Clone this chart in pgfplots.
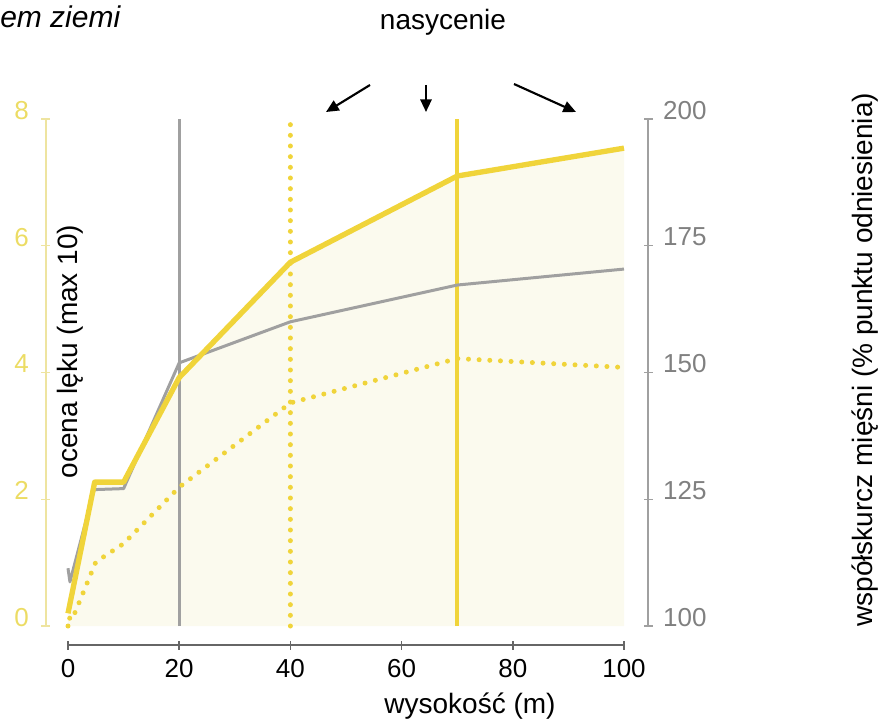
\documentclass[border=0pt]{standalone}
\usepackage{fontspec}
\setmainfont{Liberation Sans}
\usepackage{pgfplots}
\pgfplotsset{compat=1.18}
\usetikzlibrary{arrows.meta}
\definecolor{yel}{RGB}{240,212,58}
\definecolor{yellab}{RGB}{236,220,100}
\definecolor{yelaxis}{RGB}{238,228,160}
\definecolor{gry}{RGB}{160,160,160}
\definecolor{grylab}{RGB}{128,128,128}
\definecolor{fillc}{RGB}{251,250,238}
\pgfplotsset{
  base/.style={at={(0,0)}, anchor=south west, scale only axis,
    width=417pt, height=380.25pt, xmin=0, xmax=100, clip=false,
    tick align=outside, major tick length=6.75pt,
    tick label style={font=\fontsize{19.5}{23}\selectfont},
    /pgf/number format/assume math mode=true},
}
\begin{document}
\begin{tikzpicture}
\useasboundingbox (-51pt,-72pt) rectangle (610.5pt,469.5pt);
% left axis, fill and vertical lines
\begin{axis}[base, ymin=0, ymax=8,
  axis x line=bottom, axis y line=left,
  axis x line shift=14.25pt, axis y line shift=16.5pt,
  x axis line style={-, draw=black!60, line width=1.2pt},
  y axis line style={-, draw=yelaxis, line width=1pt},
  xtick={0,20,40,60,80,100}, ytick={0,2,4,6,8},
  x tick style={draw=black!60, line width=1.2pt},
  y tick style={draw=yelaxis, line width=1pt},
  yticklabel style={text=yellab, xshift=-6pt, yshift=6.5pt},
  xticklabel style={text=black, yshift=-3.5pt}]
\addplot[draw=none, fill=fillc] coordinates {(0,0.2) (4.8,2.27) (10,2.27) (20,3.92) (40,5.74) (70,7.1) (100,7.54)} \closedcycle;
\addplot[gry, line width=2.25pt] coordinates {(20,0) (20,8)};
\addplot[yel, line width=3.75pt, dash pattern=on 0pt off 8pt, line cap=round] coordinates {(40,0) (40,8)};
\addplot[yel, line width=3pt] coordinates {(70,0) (70,8)};
\end{axis}
% right axis, gray series
\begin{axis}[base, ymin=100, ymax=200,
  axis x line=none, axis y line=right, axis y line shift=18pt,
  y axis line style={-, draw=gry, line width=1pt},
  ytick={100,125,150,175,200},
  y tick style={draw=gry, line width=1pt},
  yticklabel style={text=grylab, xshift=4.5pt, yshift=6.5pt}]
\addplot[gry, line width=2.25pt, line join=round] coordinates {(0,111.4) (0.35,108.7) (4.7,126.9) (10,127.1) (20,151.9) (40,160) (70,167.25) (100,170.4)};
\end{axis}
% yellow series
\begin{axis}[base, ymin=0, ymax=8, hide axis]
\addplot[yel, line width=3.75pt, dash pattern=on 0pt off 8pt, line cap=round] coordinates {(0,0) (0.5,0) (0.2,0.19) (1.2,0.2) (5,1.01) (10,1.3) (20,2.19) (40,3.52) (70,4.22) (100,4.08)};
\addplot[yel, line width=4pt, line join=round] coordinates {(0,0.2) (4.8,2.27) (10,2.27) (20,3.92) (40,5.74) (70,7.1) (100,7.54)};
\node[rotate=90, font=\fontsize{21}{25}\selectfont] at (axis cs:0.4,4.33) {ocena lęku (max 10)};
\node[rotate=90, font=\fontsize{21}{25}\selectfont] at (axis cs:143.4,4.2) {współskurcz mięśni (\% punktu odniesienia)};
\node[font=\fontsize{21}{25}\selectfont] at (axis cs:72.3,-1.27) {wysokość (m)};
\end{axis}
\node[anchor=west, inner sep=0pt, font=\fontsize{22.5}{26}\selectfont\itshape] at (-51pt,456.75pt) {em ziemi};
\node[font=\fontsize{21}{25}\selectfont] at (281.25pt,453pt) {nasycenie};
\draw[line width=1.6pt, -{Triangle[length=9.5pt,width=8.5pt]}] (226.5pt,405.75pt) -- (193.5pt,385.5pt);
\draw[line width=1.6pt, -{Triangle[length=9.5pt,width=8.5pt]}] (268.5pt,405.75pt) -- (268.5pt,385.5pt);
\draw[line width=1.6pt, -{Triangle[length=9.5pt,width=8.5pt]}] (334.5pt,406.5pt) -- (381pt,385.5pt);
\end{tikzpicture}
\end{document}
